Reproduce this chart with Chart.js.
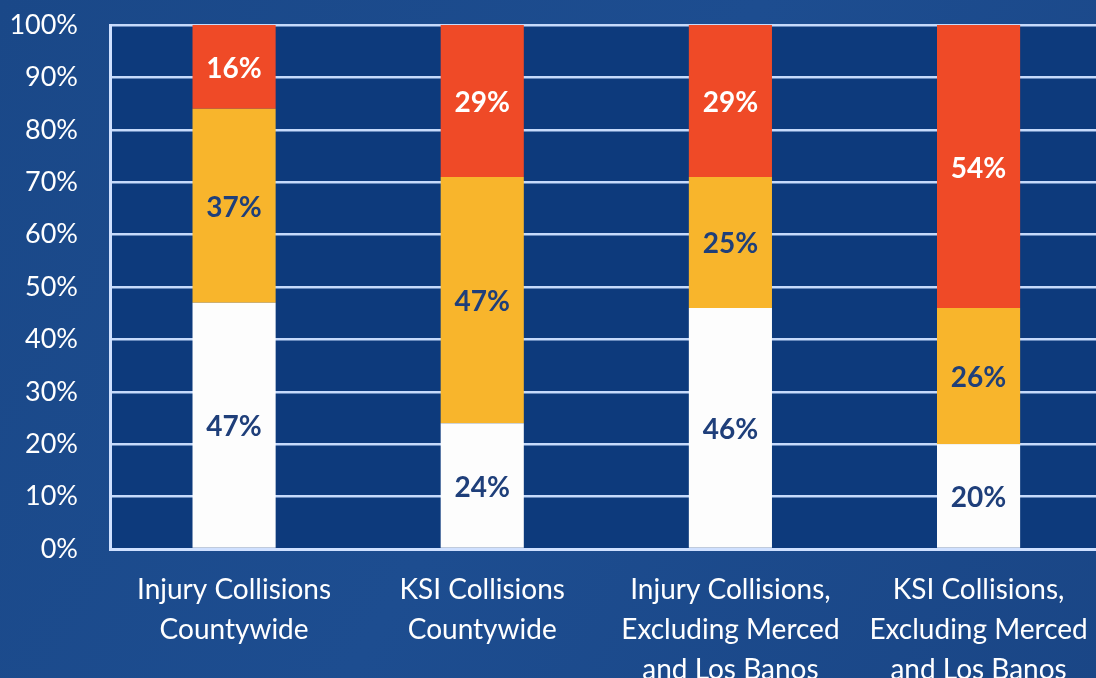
<!DOCTYPE html>
<html>
<head>
<meta charset="utf-8">
<script src="https://cdn.jsdelivr.net/npm/chart.js@4.4.1/dist/chart.umd.min.js"></script>
<style>
  html, body { margin: 0; padding: 0; background: #1c4a8c; overflow: hidden; }
  #wrap { position: relative; width: 1109px; height: 678px; }
</style>
</head>
<body>
<div id="wrap"><canvas id="myChart"></canvas></div>
<script>
// 100% stacked bars, bottom to top: white, orange, red
const categories = [
    ['Injury Collisions', 'Countywide'],
    ['KSI Collisions', 'Countywide'],
    ['Injury Collisions,', 'Excluding Merced', 'and Los Banos'],
    ['KSI Collisions,', 'Excluding Merced', 'and Los Banos']
];
const whiteValues = [47, 24, 46, 20];
const orangeValues = [37, 47, 25, 26];
const redValues = [16, 29, 29, 54];
const yTicks = [0, 10, 20, 30, 40, 50, 60, 70, 80, 90, 100];

const fontFamily = 'Lato, "Open Sans", sans-serif';

// background + darker plot area
const backdrop = {
    id: 'backdrop',
    beforeDraw(chart) {
        const { ctx, chartArea: a, width, height } = chart;
        ctx.save();
        const g = ctx.createLinearGradient(0, 0, width, height);
        g.addColorStop(0, '#1a4888');
        g.addColorStop(0.5, '#1d4d90');
        g.addColorStop(1, '#1a4686');
        ctx.fillStyle = g;
        ctx.fillRect(0, 0, width, height);
        ctx.fillStyle = '#0d3a7c';
        ctx.fillRect(a.left, a.top, a.right - a.left, a.bottom - a.top);
        ctx.restore();
    }
};

// percentage labels centred in each segment
const segLabels = {
    id: 'segLabels',
    afterDatasetsDraw(chart) {
        const { ctx } = chart;
        ctx.save();
        ctx.font = 'bold 28px ' + fontFamily;
        ctx.textAlign = 'center';
        ctx.textBaseline = 'middle';
        chart.data.datasets.forEach((ds, i) => {
            chart.getDatasetMeta(i).data.forEach((bar, j) => {
                const mid = (bar.y + bar.base) / 2;
                ctx.fillStyle = ds.labelColor;
                ctx.fillText(ds.data[j] + '%', bar.x, mid + 2);
            });
        });
        ctx.restore();
    }
};

const ctx = document.getElementById('myChart').getContext('2d');
const myChart = new Chart(ctx, {
    type: 'bar',
    data: {
        labels: categories,
        datasets: [
            { label: 'White', data: whiteValues, backgroundColor: '#fdfdfd', labelColor: '#1f3f7a' },
            { label: 'Orange', data: orangeValues, backgroundColor: '#f8b52c', labelColor: '#1f3f7a' },
            { label: 'Red', data: redValues, backgroundColor: '#ef4a27', labelColor: '#ffffff' }
        ]
    },
    options: {
        responsive: true,
        maintainAspectRatio: false,
        animation: false,
        layout: { padding: { top: 25, right: 2, left: 0, bottom: 0 } },
        datasets: {
            bar: { categoryPercentage: 1, barPercentage: 0.335 }
        },
        plugins: {
            legend: { display: false },
            tooltip: { enabled: false }
        },
        scales: {
            x: {
                stacked: true,
                grid: { display: true, color: 'transparent', drawTicks: false },
                border: { display: true, color: '#cfe0ff', width: 3 },
                ticks: {
                    color: '#ffffff',
                    padding: 21,
                    maxRotation: 0,
                    font: { family: fontFamily, size: 28, lineHeight: '40px' }
                },
                afterFit(scale) { scale.height = 129; }
            },
            y: {
                stacked: true,
                min: 0,
                max: 100,
                afterBuildTicks(scale) {
                    scale.ticks = yTicks.map(v => ({ value: v }));
                },
                grid: { color: '#c6dafb', lineWidth: 2.5, drawTicks: false },
                border: { display: true, color: '#cfe0ff', width: 3 },
                ticks: {
                    color: '#ffffff',
                    padding: 32,
                    font: { family: fontFamily, size: 27 },
                    callback: v => v + '%'
                },
                afterFit(scale) {
                    scale.width = 110;
                    scale.paddingTop = 0;
                    scale.paddingBottom = 0;
                }
            }
        }
    },
    plugins: [backdrop, segLabels]
});
</script>
</body>
</html>
